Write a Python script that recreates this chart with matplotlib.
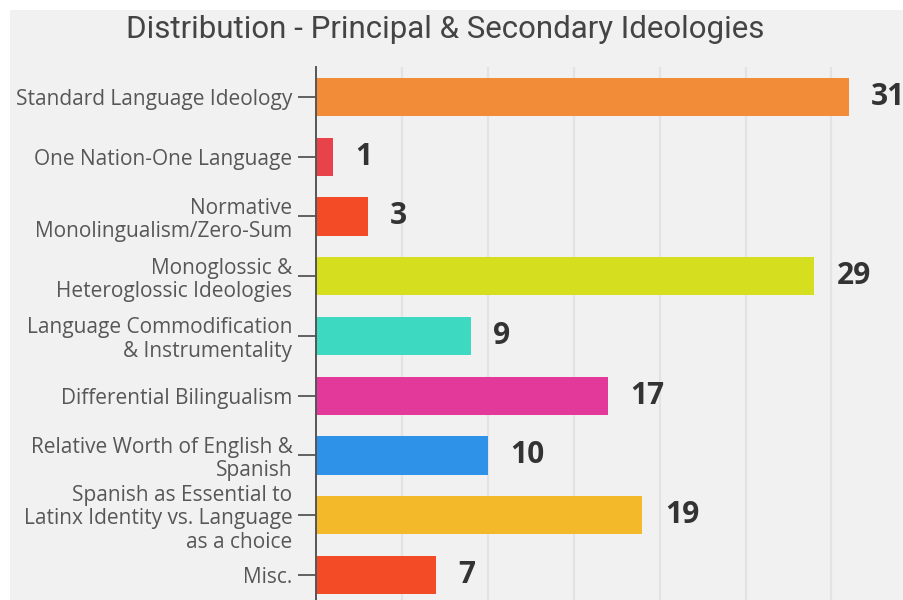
import matplotlib
matplotlib.use("Agg")
import matplotlib.pyplot as plt
from matplotlib.patches import Rectangle

categories = [
    "Standard Language Ideology",
    "One Nation-One Language",
    "Normative\nMonolingualism/Zero-Sum",
    "Monoglossic &\nHeteroglossic Ideologies",
    "Language Commodification\n& Instrumentality",
    "Differential Bilingualism",
    "Relative Worth of English &\nSpanish",
    "Spanish as Essential to\nLatinx Identity vs. Language\nas a choice",
    "Misc.",
]
values = [31, 1, 3, 29, 9, 17, 10, 19, 7]
colors = ["#F28C38", "#E8424A", "#F44B27", "#D5DF20", "#3DD9C1",
          "#E3399A", "#2E93E8", "#F4B82B", "#F44B27"]
grid_ticks = [5, 10, 15, 20, 25, 30]

W, H = 904, 600
fig = plt.figure(figsize=(W / 100, H / 100), dpi=100, facecolor="white")
# light gray panel with thin white margin top/left
fig.patches.append(Rectangle((10 / W, -0.05), 1.1, 1.05 - 10 / H, transform=fig.transFigure,
                             facecolor="#f1f1f1", edgecolor="none", zorder=-10))

ax = fig.add_axes([316 / W, 0, (W - 316) / W, 1 - 67 / H])
ax.set_facecolor("none")
y = list(range(len(categories)))
ax.barh(y, values, height=0.64, color=colors, zorder=2)

ax.set_xlim(0, (W - 316) / 17.18)
ax.set_ylim(8.42, -0.5)
ax.set_xticks(grid_ticks)
ax.tick_params(axis="x", length=0, labelbottom=False)
ax.grid(axis="x", color="#e3e3e3", linewidth=1.6, zorder=0)

ax.set_yticks(y)
ax.set_yticklabels(categories, fontfamily="Open Sans", fontsize=15,
                   color="#575757", linespacing=1.15)
ax.tick_params(axis="y", length=13, width=1.3, color="#555555", pad=4)

for s in ["top", "right", "bottom"]:
    ax.spines[s].set_visible(False)
ax.spines["left"].set_color("#555555")
ax.spines["left"].set_linewidth(1.4)
ax.spines["left"].set_zorder(3)

for yi, v in zip(y, values):
    ax.text(v + 1.3, yi, str(v), va="center", ha="left", fontfamily="Open Sans",
            fontweight="bold", fontsize=21.5, color="#333333", clip_on=False)

fig.text(445 / W, 1 - 29 / H, "Distribution - Principal & Secondary Ideologies",
         ha="center", va="center", fontfamily="Roboto", fontsize=22.5, color="#444444")

fig.savefig("out.png", dpi=100, facecolor="white")
